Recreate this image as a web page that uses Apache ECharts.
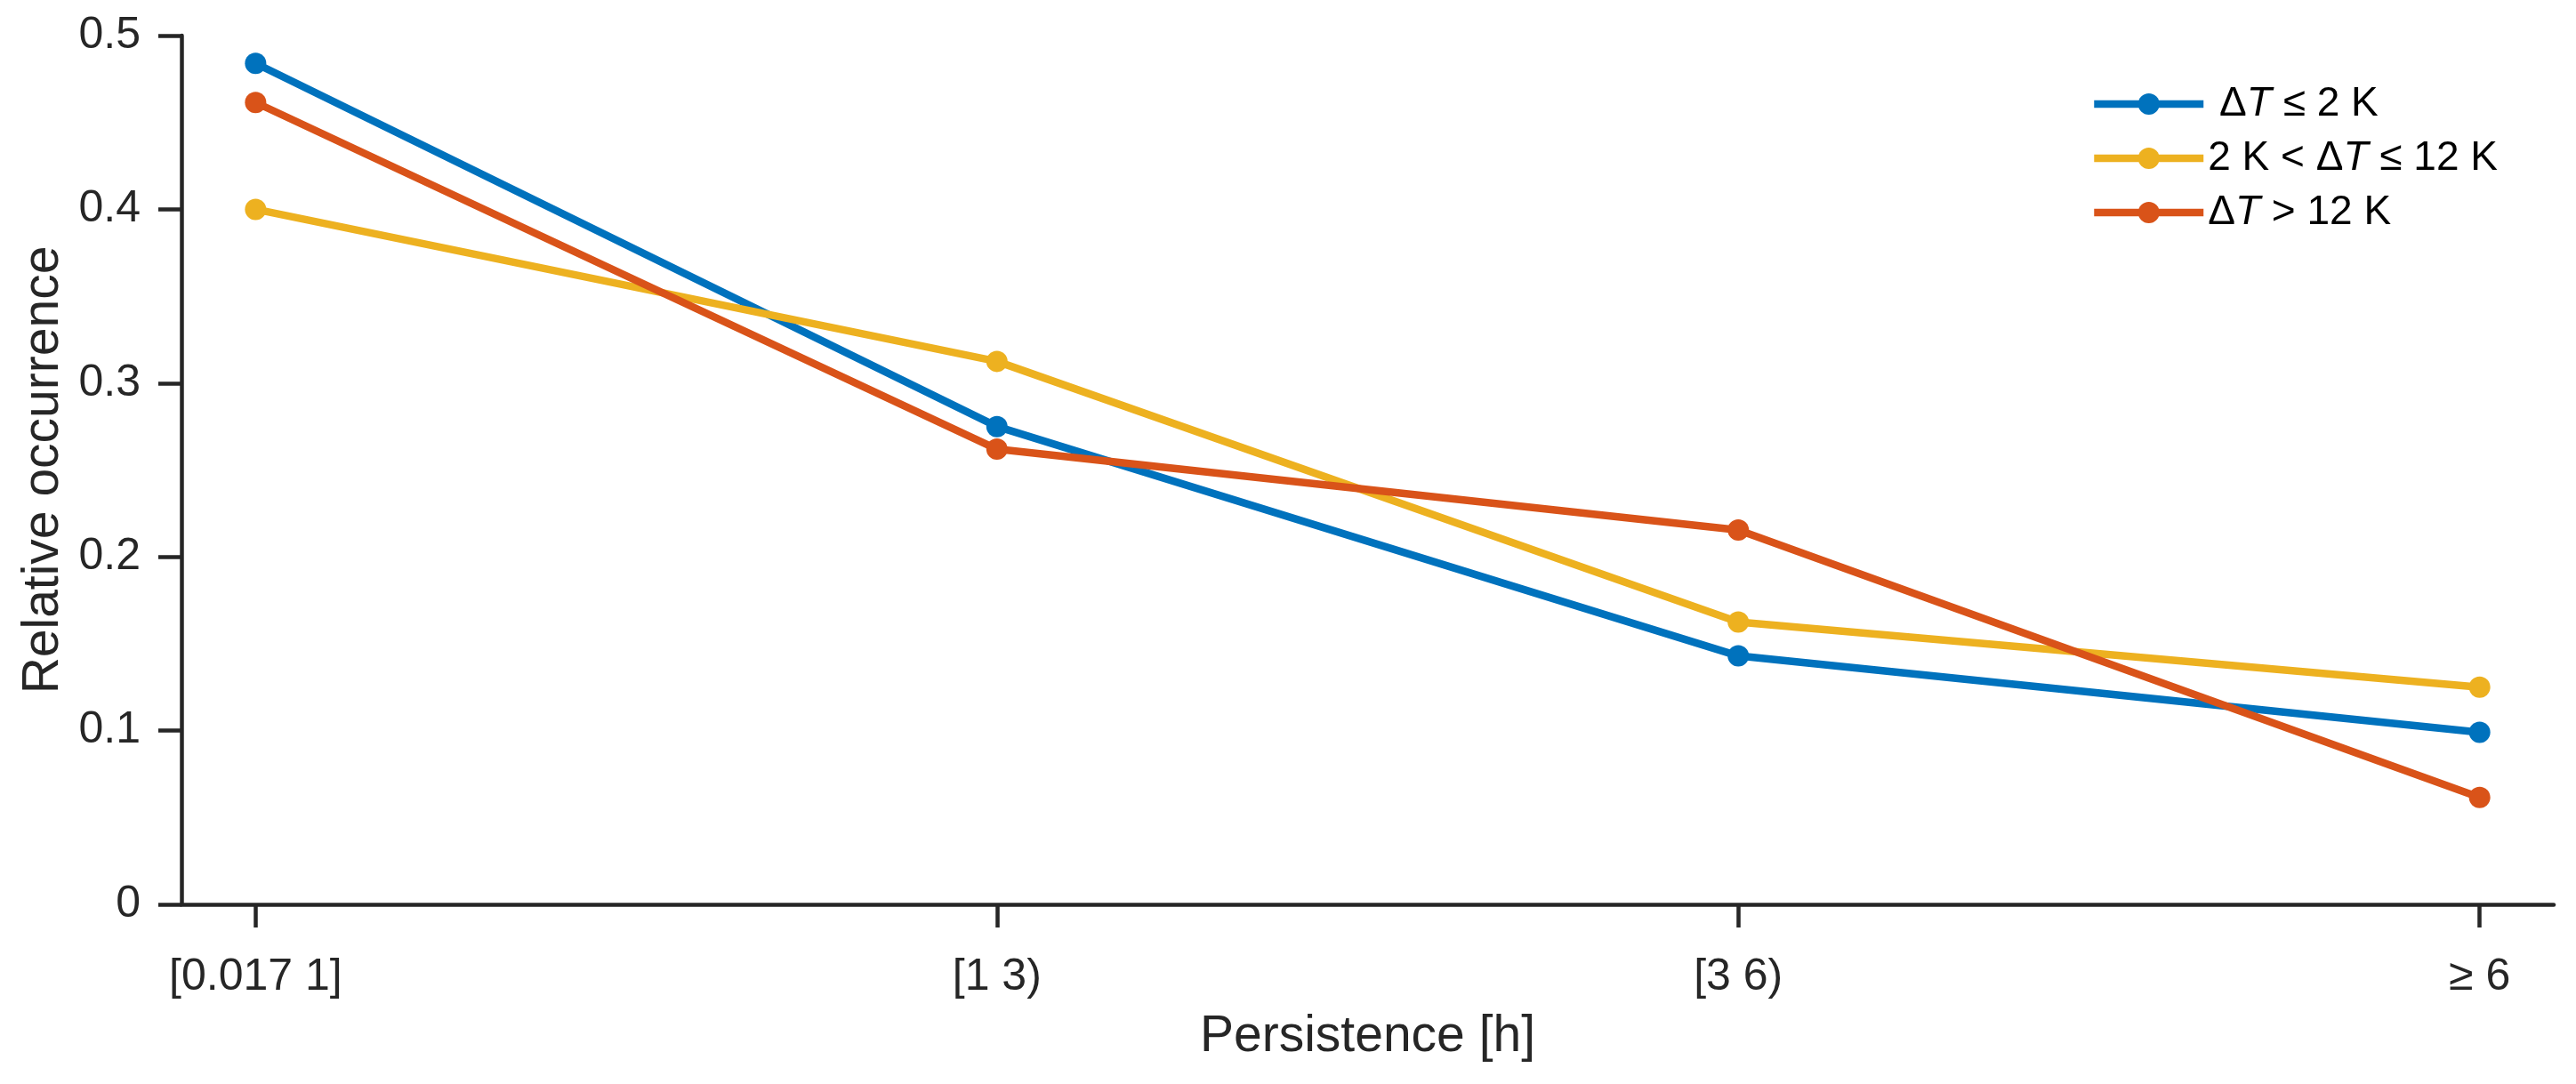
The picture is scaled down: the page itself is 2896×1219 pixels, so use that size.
<!DOCTYPE html>
<html><head><meta charset="utf-8">
<script src="https://cdn.jsdelivr.net/npm/echarts@6/dist/echarts.min.js"></script>
<style>html,body{margin:0;padding:0;background:#fff}#c{width:2896px;height:1219px}</style>
</head><body><div id="c"></div>
<script>
const categories = ['[0.017 1]', '[1 3)', '[3 6)', '\u2265 6'];
const categoryPositions = [1, 2, 3, 4];
const seriesNames = ['\u0394T \u2264 2 K', '2 K < \u0394T \u2264 12 K', '\u0394T > 12 K'];
const lowDT = [0.484, 0.275, 0.143, 0.099];
const midDT = [0.400, 0.3125, 0.1625, 0.125];
const highDT = [0.4615, 0.262, 0.2155, 0.0615];
const yTicks = [0, 0.1, 0.2, 0.3, 0.4, 0.5];
const colors = ['#0072BD', '#EDB120', '#D95319'];

const FONT = '"Liberation Sans", Arial, Helvetica, sans-serif';
const AX = '#262626';
const values = [lowDT, midDT, highDT];

const chart = echarts.init(document.getElementById('c'), null, {renderer: 'canvas'});
chart.setOption({
  animation: false,
  backgroundColor: '#ffffff',
  grid: {left: 204, right: 25, top: 40, bottom: 202},
  legend: {
    orient: 'vertical',
    left: 2350, top: 94,
    padding: 0,
    itemWidth: 123, itemHeight: 30, itemGap: 15,
    data: seriesNames,
    lineStyle: {width: 8.5},
    formatter: function (name) {
      const i = seriesNames.indexOf(name);
      const s = name.replace('T', '{i|T}');
      return i === 0 ? ' ' + s : s;
    },
    textStyle: {
      fontFamily: FONT, fontSize: 46, lineHeight: 46, color: '#000',
      rich: {i: {fontFamily: FONT, fontSize: 46, fontStyle: 'italic', color: '#000'}}
    }
  },
  xAxis: {
    type: 'value', min: 0.9, max: 4.1,
    name: 'Persistence [h]', nameLocation: 'middle', nameGap: 121,
    nameTextStyle: {fontFamily: FONT, fontSize: 57, color: AX},
    axisLine: {show: true, onZero: false, lineStyle: {color: AX, width: 4.5}},
    axisTick: {show: true, inside: false, length: 26, customValues: categoryPositions, lineStyle: {color: AX, width: 4.5}},
    axisLabel: {
      margin: 57, fontFamily: FONT, fontSize: 50, color: AX,
      customValues: categoryPositions,
      formatter: function (v) { const i = categoryPositions.indexOf(Math.round(v)); return i >= 0 ? categories[i] : ''; }
    },
    splitLine: {show: false}
  },
  yAxis: {
    type: 'value', min: 0, max: 0.5, interval: 0.1,
    name: 'Relative occurrence', nameLocation: 'middle', nameGap: 125,
    nameTextStyle: {fontFamily: FONT, fontSize: 57, color: AX},
    axisLine: {show: true, lineStyle: {color: AX, width: 4.5}},
    axisTick: {show: true, inside: false, length: 26, lineStyle: {color: AX, width: 4.5}},
    axisLabel: {
      margin: 46, fontFamily: FONT, fontSize: 50, color: AX,
      formatter: function (v) { const t = yTicks.find(x => Math.abs(x - v) < 1e-9); const u = (t === undefined ? v : t); return u === 0 ? '0' : u.toFixed(1); }
    },
    splitLine: {show: false}
  },
  series: values.map((arr, k) => ({
    name: seriesNames[k],
    type: 'line',
    data: arr.map((v, i) => [categoryPositions[i], v]),
    symbol: 'circle', symbolSize: 24,
    lineStyle: {width: 8.5, color: colors[k]},
    itemStyle: {color: colors[k], borderWidth: 0},
    z: 2 + k
  }))
});
</script></body></html>
